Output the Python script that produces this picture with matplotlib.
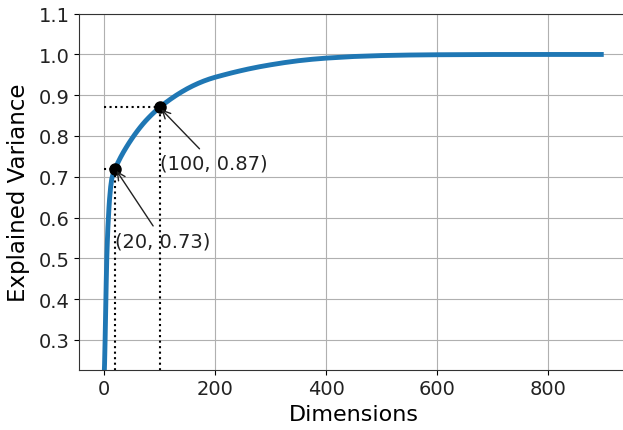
import numpy as np
import matplotlib.pyplot as plt

# cumulative explained variance
dims = [0, 1, 2, 3, 4, 5, 6, 7, 8, 9, 10, 11, 12, 13, 14, 15, 17, 20, 25, 30, 35, 40, 45,
        50, 55, 60, 65, 70, 75, 80, 85, 90, 95, 100, 110, 120, 130, 140, 150, 160, 170, 180,
        190, 200, 215, 230, 245, 260, 280, 300, 325, 350, 375, 400, 450, 500, 550, 600, 700,
        800, 896]
explained = [0.20, 0.24, 0.30, 0.37, 0.44, 0.50, 0.54, 0.575, 0.60, 0.625, 0.645, 0.66, 0.675,
             0.685, 0.695, 0.70, 0.71, 0.72, 0.7345, 0.748, 0.7604, 0.7718, 0.7827,
             0.793, 0.8028, 0.8121, 0.8209, 0.8292, 0.837, 0.8442, 0.8511, 0.8576, 0.8638, 0.87,
             0.8806, 0.8905, 0.8997, 0.9082, 0.916, 0.923, 0.9293, 0.9349,
             0.9398, 0.944, 0.9495, 0.9548, 0.9597, 0.9643, 0.9698, 0.9746, 0.980, 0.9846, 0.9882,
             0.991, 0.995, 0.9973, 0.9986, 0.9993, 0.9999, 1.0, 1.0]

marked_dims = [20, 100]
marked_vals = [0.72, 0.87]
marked_labels = ['(20, 0.73)', '(100, 0.87)']
label_vals = [0.53, 0.72]

plt.rcParams['text.color'] = '#222222'
plt.rcParams['xtick.labelcolor'] = '#222222'
plt.rcParams['ytick.labelcolor'] = '#222222'

fig = plt.figure(figsize=(6.23, 4.31), dpi=100)
ax = fig.add_axes([79.3 / 623, 60.3 / 431, 549.2 / 623, 356.0 / 431])

ax.plot(dims, explained, linewidth=3.5)
for d, v, lab, ly in zip(marked_dims, marked_vals, marked_labels, label_vals):
    ax.plot([d, d], [0, v], 'k:')
    ax.plot([0, d], [v, v], 'k:')
    ax.plot(d, v, 'ko', markersize=8)
    ax.annotate(lab, xy=(d, v), xytext=(d, ly),
                arrowprops=dict(arrowstyle='->', color='#222222'), fontsize=14)

ax.set_xlim(-44.5, 945)
ax.set_ylim(0.2266, 1.1)
ax.set_xticks([0, 200, 400, 600, 800])
ax.tick_params(labelsize=14)
for s in ax.spines.values():
    s.set_color('#333333')
ax.set_xlabel('Dimensions', fontsize=16)
ax.set_ylabel('Explained Variance', fontsize=16.5, labelpad=6)
ax.grid(True)

fig.savefig('out.png', dpi=100)
